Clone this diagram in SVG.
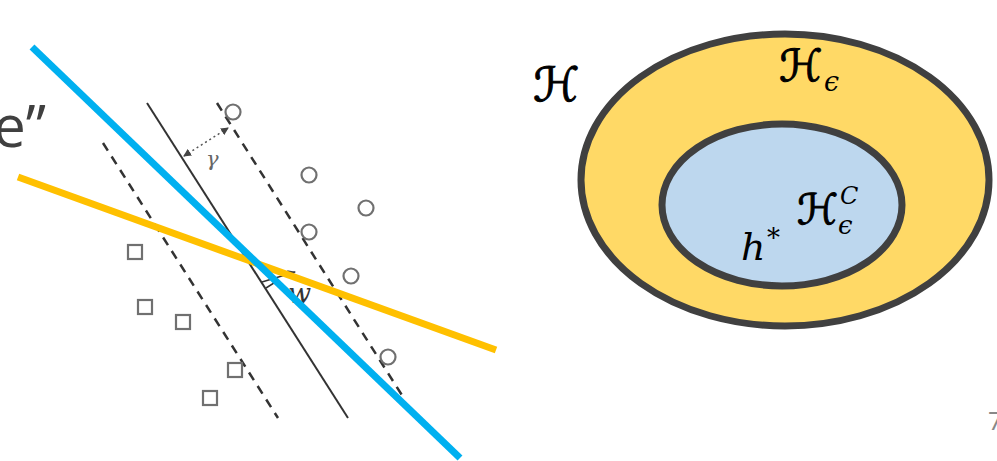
<svg xmlns="http://www.w3.org/2000/svg" width="997" height="461" viewBox="0 0 997 461">
<style>
.pt{fill:none;stroke:#707070;stroke-width:2.2}
.dash{stroke:#333;stroke-width:2.5;stroke-dasharray:9,7;fill:none}
.math{font-family:"DejaVu Sans",sans-serif;fill:#000;stroke:#000;stroke-width:1}
.it{font-family:"DejaVu Serif",serif;font-style:italic;fill:#000}
</style>
<defs>
<marker id="ah" markerWidth="8" markerHeight="8" refX="7" refY="4" orient="auto" markerUnits="userSpaceOnUse"><path d="M0,0 L8,4 L0,8 Z" fill="#444"/></marker>
<marker id="ah2" markerWidth="8" markerHeight="8" refX="1" refY="4" orient="auto" markerUnits="userSpaceOnUse"><path d="M8,0 L0,4 L8,8 Z" fill="#444"/></marker>
</defs>
<rect width="997" height="461" fill="#fff"/>
<text x="46" y="147" font-family="Open Sans, sans-serif" font-size="58" fill="#404040" text-anchor="end">e”</text>
<g id="svm">
<line class="dash" x1="103" y1="143" x2="278" y2="418"/>
<line class="dash" x1="217" y1="103" x2="405" y2="400"/>
<line x1="147" y1="103" x2="348" y2="418" stroke="#333" stroke-width="2"/>
<g id="circles">
<circle class="pt" cx="233" cy="112" r="7.5"/>
<circle class="pt" cx="309" cy="175" r="7.5"/>
<circle class="pt" cx="366" cy="208" r="7.5"/>
<circle class="pt" cx="309" cy="232" r="7.5"/>
<circle class="pt" cx="351" cy="276" r="7.5"/>
<circle class="pt" cx="388" cy="357" r="7.5"/>
</g>
<g id="squares">
<rect class="pt" x="128" y="245" width="14" height="14"/>
<rect class="pt" x="138" y="300" width="14" height="14"/>
<rect class="pt" x="176" y="315" width="14" height="14"/>
<rect class="pt" x="228" y="363" width="14" height="14"/>
<rect class="pt" x="203" y="391" width="14" height="14"/>
</g>
<line x1="184" y1="156" x2="228" y2="128" stroke="#555" stroke-width="1.5" stroke-dasharray="2,3" marker-start="url(#ah2)" marker-end="url(#ah)"/>
<text x="206" y="166" font-family="DejaVu Serif, serif" font-style="italic" font-size="21" fill="#666">γ</text>
<line x1="262" y1="282" x2="295" y2="272" stroke="#333" stroke-width="1.5" marker-end="url(#ah)"/>
<polyline points="266,288 274,283 270,277" fill="none" stroke="#333" stroke-width="1.5"/>
<text x="288" y="303" font-family="DejaVu Serif, serif" font-style="italic" font-size="27" fill="#333">w</text>
</g>
<g id="lines">
<line x1="18" y1="177" x2="496" y2="350" stroke="#FFC000" stroke-width="7"/>
<line x1="32" y1="47" x2="460" y2="458" stroke="#00B0F0" stroke-width="7"/>
</g>
<g id="outer">
<ellipse cx="785" cy="180" rx="204" ry="146" fill="#FFD966" stroke="#404040" stroke-width="7"/>
</g>
<g id="inner">
<ellipse cx="782" cy="205" rx="120" ry="81" fill="#BDD7EE" stroke="#404040" stroke-width="7"/>
</g>
<text class="math" x="533" y="101" font-size="47">ℋ</text>
<text class="math" x="779" y="81" font-size="44">ℋ</text>
<text class="it" x="824" y="91" font-size="27">ϵ</text>
<text class="math" x="797" y="224" font-size="42">ℋ</text>
<text class="it" x="840" y="204" font-size="24">C</text>
<text class="it" x="838" y="234" font-size="26">ϵ</text>
<text class="it" x="741" y="260" font-size="38">h</text>
<text class="it" x="767" y="247" font-size="26" font-style="normal">*</text>
<text x="988" y="430" font-family="Open Sans, sans-serif" font-size="26" fill="#888">7</text>
</svg>
